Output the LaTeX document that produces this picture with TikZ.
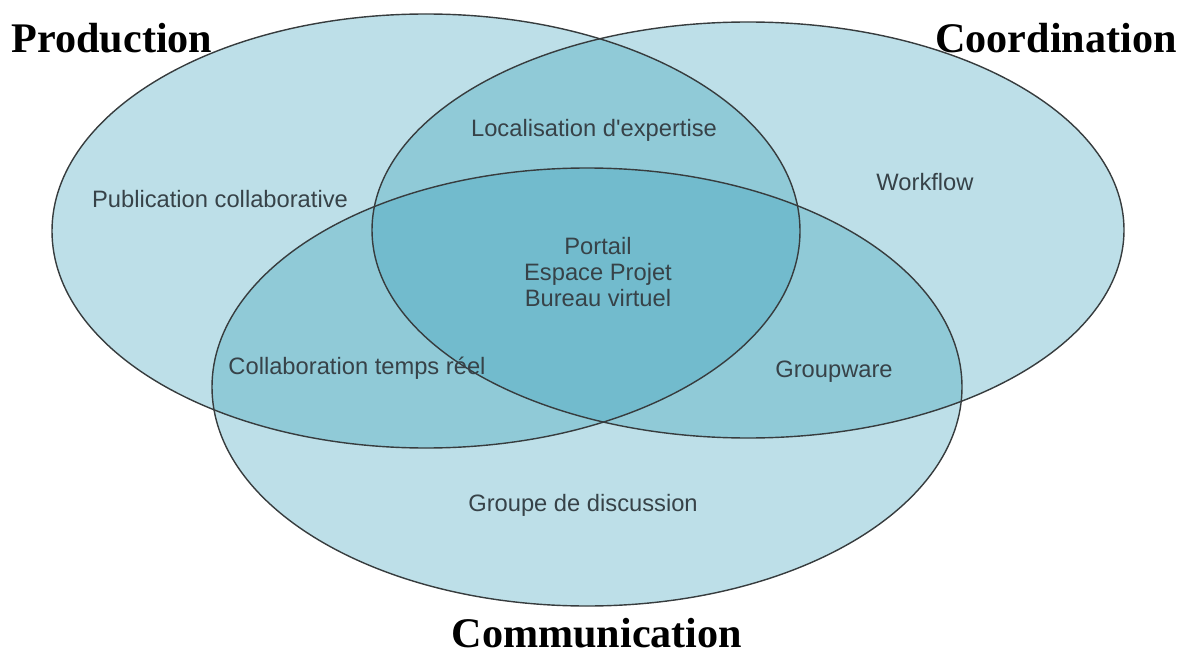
\documentclass[tikz,border=0pt]{standalone}
\usepackage{fontspec}
\setmainfont{Liberation Serif}
\newfontfamily\vennsans{Liberation Sans}
\definecolor{cVenn}{RGB}{50,157,182}
\definecolor{cLine}{RGB}{55,60,62}
\definecolor{cText}{RGB}{55,66,72}

\begin{document}
\begin{tikzpicture}[x=0.02cm, y=-0.02cm,
  every node/.style={inner sep=0pt},
  tool/.style={font=\vennsans\fontsize{13.5}{14.8}\selectfont, text=cText, align=center},
  fieldname/.style={font=\bfseries\fontsize{24}{28}\selectfont, text=black}]
  \useasboundingbox (0,0) rectangle (1189,655);
  % the three fields, fills first
  \foreach \cx/\cy/\rx/\ry in {426/231/374/217, 748/230/376/208, 587/387/375/219}{%
    \fill[cVenn, fill opacity=0.32] (\cx,\cy) ellipse [x radius=\rx, y radius=\ry];
  }
  % outlines on top
  \foreach \cx/\cy/\rx/\ry in {426/231/374/217, 748/230/376/208, 587/387/375/219}{%
    \draw[cLine, line width=0.8pt] (\cx,\cy) ellipse [x radius=\rx, y radius=\ry];
  }
  % field names
  \node[fieldname] (prod) at (112,38) {Production};
  \node[fieldname] (coord) at (1056,38) {Coordination};
  \node[fieldname] (comm) at (597,633) {Communication};
  % tools
  \node[tool] (pub) at (220,199) {Publication collaborative};
  \node[tool] (loc) at (594,130) {Localisation d'expertise};
  \node[tool] (work) at (925,182) {Workflow};
  \node[tool] (core) at (598,272) {Portail\\Espace Projet\\Bureau virtuel};
  \node[tool] (ctr) at (357,368) {Collaboration temps réel};
  \node[tool] (grw) at (834,372) {Groupware};
  \node[tool] (disc) at (583,505) {Groupe de discussion};
\end{tikzpicture}
\end{document}
